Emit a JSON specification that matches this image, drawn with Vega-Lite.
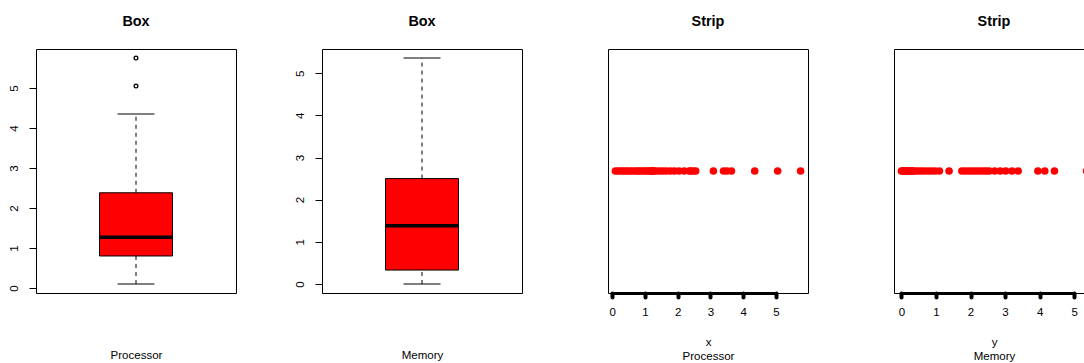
{
  "$schema": "https://vega.github.io/schema/vega-lite/v6.json",
  "background": "white",
  "padding": {"left": 7, "top": 13, "right": 0, "bottom": 0},
  "datasets": {
    "processor": [
      {"value": 0.10}, {"value": 0.18}, {"value": 0.25}, {"value": 0.33}, {"value": 0.41},
      {"value": 0.47}, {"value": 0.55}, {"value": 0.62}, {"value": 0.70}, {"value": 0.78},
      {"value": 0.82}, {"value": 0.90}, {"value": 0.97}, {"value": 1.03}, {"value": 1.10},
      {"value": 1.15}, {"value": 1.20}, {"value": 1.22}, {"value": 1.24}, {"value": 1.26},
      {"value": 1.28}, {"value": 1.38}, {"value": 1.47}, {"value": 1.56}, {"value": 1.66},
      {"value": 1.78}, {"value": 1.90}, {"value": 2.04}, {"value": 2.20}, {"value": 2.36},
      {"value": 2.40}, {"value": 2.48}, {"value": 2.55}, {"value": 3.09}, {"value": 3.40},
      {"value": 3.50}, {"value": 3.64}, {"value": 4.35}, {"value": 5.05}, {"value": 5.75}
    ],
    "memory": [
      {"value": 0.00}, {"value": 0.03}, {"value": 0.06}, {"value": 0.10}, {"value": 0.14},
      {"value": 0.18}, {"value": 0.22}, {"value": 0.26}, {"value": 0.29}, {"value": 0.32},
      {"value": 0.34}, {"value": 0.42}, {"value": 0.50}, {"value": 0.59}, {"value": 0.68},
      {"value": 0.78}, {"value": 0.88}, {"value": 0.98}, {"value": 1.10}, {"value": 1.38},
      {"value": 1.75}, {"value": 1.84}, {"value": 1.93}, {"value": 2.02}, {"value": 2.11},
      {"value": 2.20}, {"value": 2.29}, {"value": 2.38}, {"value": 2.46}, {"value": 2.54},
      {"value": 2.70}, {"value": 2.86}, {"value": 3.02}, {"value": 3.20}, {"value": 3.38},
      {"value": 3.95}, {"value": 4.15}, {"value": 4.43}, {"value": 5.36}
    ],
    "processorStats": [
      {"variable": "Processor", "lower": 0.10, "q1": 0.80, "median": 1.27, "q3": 2.38, "upper": 4.35}
    ],
    "memoryStats": [
      {"variable": "Memory", "lower": 0.00, "q1": 0.33, "median": 1.38, "q3": 2.50, "upper": 5.36}
    ]
  },
  "hconcat": [
    {
      "title": "Box",
      "width": 200,
      "height": 244,
      "layer": [
        {
          "data": {"name": "processorStats"},
          "mark": {"type": "rule", "color": "black", "strokeWidth": 1, "strokeDash": [4, 4]},
          "encoding": {
            "x": {"field": "variable", "type": "nominal", "scale": {"paddingInner": 0, "paddingOuter": 0},
                  "axis": {"title": "Processor", "labels": false, "ticks": false, "domain": false, "titlePadding": 56}},
            "y": {"field": "q3", "type": "quantitative",
                  "scale": {"domain": [-0.126, 5.976], "nice": false, "zero": false},
                  "axis": {"title": null, "values": [0, 1, 2, 3, 4, 5], "domain": false, "tickSize": 7,
                           "labelAngle": 270, "labelAlign": "center", "labelBaseline": "bottom", "labelPadding": 10}},
            "y2": {"field": "upper"}
          }
        },
        {
          "data": {"name": "processorStats"},
          "mark": {"type": "rule", "color": "black", "strokeWidth": 1, "strokeDash": [4, 4]},
          "encoding": {
            "x": {"field": "variable", "type": "nominal"},
            "y": {"field": "lower", "type": "quantitative"},
            "y2": {"field": "q1"}
          }
        },
        {
          "data": {"name": "processorStats"},
          "mark": {"type": "bar", "fill": "#ff0000", "stroke": "black", "strokeWidth": 1, "width": {"band": 0.365}},
          "encoding": {
            "x": {"field": "variable", "type": "nominal"},
            "y": {"field": "q1", "type": "quantitative"},
            "y2": {"field": "q3"}
          }
        },
        {
          "data": {"name": "processorStats"},
          "mark": {"type": "tick", "color": "black", "size": 37, "thickness": 1, "opacity": 1},
          "encoding": {
            "x": {"field": "variable", "type": "nominal"},
            "y": {"field": "lower", "type": "quantitative"}
          }
        },
        {
          "data": {"name": "processorStats"},
          "mark": {"type": "tick", "color": "black", "size": 37, "thickness": 1, "opacity": 1},
          "encoding": {
            "x": {"field": "variable", "type": "nominal"},
            "y": {"field": "upper", "type": "quantitative"}
          }
        },
        {
          "data": {"name": "processorStats"},
          "mark": {"type": "tick", "color": "black", "size": 73, "thickness": 3.5, "opacity": 1},
          "encoding": {
            "x": {"field": "variable", "type": "nominal"},
            "y": {"field": "median", "type": "quantitative"}
          }
        },
        {
          "data": {"name": "processor"},
          "transform": [{"filter": "datum.value > 4.35"}, {"calculate": "'Processor'", "as": "variable"}],
          "mark": {"type": "point", "shape": "circle", "filled": false, "color": "black", "size": 14, "strokeWidth": 1.3, "opacity": 1},
          "encoding": {
            "x": {"field": "variable", "type": "nominal"},
            "y": {"field": "value", "type": "quantitative"}
          }
        }
      ]
    },
    {
      "title": "Box",
      "width": 200,
      "height": 244,
      "layer": [
        {
          "data": {"name": "memoryStats"},
          "mark": {"type": "rule", "color": "black", "strokeWidth": 1, "strokeDash": [4, 4]},
          "encoding": {
            "x": {"field": "variable", "type": "nominal", "scale": {"paddingInner": 0, "paddingOuter": 0},
                  "axis": {"title": "Memory", "labels": false, "ticks": false, "domain": false, "titlePadding": 56}},
            "y": {"field": "q3", "type": "quantitative",
                  "scale": {"domain": [-0.2144, 5.5744], "nice": false, "zero": false},
                  "axis": {"title": null, "values": [0, 1, 2, 3, 4, 5], "domain": false, "tickSize": 7,
                           "labelAngle": 270, "labelAlign": "center", "labelBaseline": "bottom", "labelPadding": 10}},
            "y2": {"field": "upper"}
          }
        },
        {
          "data": {"name": "memoryStats"},
          "mark": {"type": "rule", "color": "black", "strokeWidth": 1, "strokeDash": [4, 4]},
          "encoding": {
            "x": {"field": "variable", "type": "nominal"},
            "y": {"field": "lower", "type": "quantitative"},
            "y2": {"field": "q1"}
          }
        },
        {
          "data": {"name": "memoryStats"},
          "mark": {"type": "bar", "fill": "#ff0000", "stroke": "black", "strokeWidth": 1, "width": {"band": 0.365}},
          "encoding": {
            "x": {"field": "variable", "type": "nominal"},
            "y": {"field": "q1", "type": "quantitative"},
            "y2": {"field": "q3"}
          }
        },
        {
          "data": {"name": "memoryStats"},
          "mark": {"type": "tick", "color": "black", "size": 37, "thickness": 1, "opacity": 1},
          "encoding": {
            "x": {"field": "variable", "type": "nominal"},
            "y": {"field": "lower", "type": "quantitative"}
          }
        },
        {
          "data": {"name": "memoryStats"},
          "mark": {"type": "tick", "color": "black", "size": 37, "thickness": 1, "opacity": 1},
          "encoding": {
            "x": {"field": "variable", "type": "nominal"},
            "y": {"field": "upper", "type": "quantitative"}
          }
        },
        {
          "data": {"name": "memoryStats"},
          "mark": {"type": "tick", "color": "black", "size": 73, "thickness": 3.5, "opacity": 1},
          "encoding": {
            "x": {"field": "variable", "type": "nominal"},
            "y": {"field": "median", "type": "quantitative"}
          }
        }
      ]
    },
    {
      "title": "Strip",
      "width": 200,
      "height": 244,
      "encoding": {
        "x": {"type": "quantitative",
              "scale": {"domain": [-0.126, 5.976], "nice": false, "zero": false},
              "axis": {"title": ["x", "Processor"], "values": [0, 1, 2, 3, 4, 5], "tickCount": 6, "domain": false,
                       "labelOverlap": false, "labelFlush": false,
                       "tickSize": 4, "tickWidth": 4, "tickCap": "round", "labelPadding": 9,
                       "titlePadding": 19, "titleLineHeight": 14}}
      },
      "layer": [
        {
          "data": {"name": "processor"},
          "mark": {"type": "point", "shape": "circle", "filled": true, "color": "#ff0000", "size": 58, "opacity": 1},
          "encoding": {
            "x": {"field": "value"},
            "y": {"datum": 0.5, "type": "quantitative", "scale": {"domain": [0, 1]}, "axis": null}
          }
        },
        {
          "data": {"name": "processor"},
          "transform": [{"aggregate": [{"op": "count", "as": "n"}]}],
          "mark": {"type": "rule", "color": "black", "strokeWidth": 3, "strokeCap": "round", "yOffset": 0.5},
          "encoding": {
            "x": {"datum": 0},
            "x2": {"datum": 5},
            "y": {"datum": 0, "type": "quantitative"}
          }
        }
      ]
    },
    {
      "title": "Strip",
      "width": 200,
      "height": 244,
      "encoding": {
        "x": {"type": "quantitative",
              "scale": {"domain": [-0.2144, 5.5744], "nice": false, "zero": false},
              "axis": {"title": ["y", "Memory"], "values": [0, 1, 2, 3, 4, 5], "tickCount": 6, "domain": false,
                       "labelOverlap": false, "labelFlush": false,
                       "tickSize": 4, "tickWidth": 4, "tickCap": "round", "labelPadding": 9,
                       "titlePadding": 19, "titleLineHeight": 14}}
      },
      "layer": [
        {
          "data": {"name": "memory"},
          "mark": {"type": "point", "shape": "circle", "filled": true, "color": "#ff0000", "size": 58, "opacity": 1},
          "encoding": {
            "x": {"field": "value"},
            "y": {"datum": 0.5, "type": "quantitative", "scale": {"domain": [0, 1]}, "axis": null}
          }
        },
        {
          "data": {"name": "memory"},
          "transform": [{"aggregate": [{"op": "count", "as": "n"}]}],
          "mark": {"type": "rule", "color": "black", "strokeWidth": 3, "strokeCap": "round", "yOffset": 0.5},
          "encoding": {
            "x": {"datum": 0},
            "x2": {"datum": 5},
            "y": {"datum": 0, "type": "quantitative"}
          }
        }
      ]
    }
  ],
  "spacing": 86,
  "bounds": "flush",
  "config": {
    "font": "Liberation Sans",
    "view": {"stroke": "black", "strokeWidth": 1},
    "title": {"font": "Liberation Sans", "fontSize": 14.4, "fontWeight": "bold", "color": "black", "offset": 20},
    "axis": {
      "grid": false,
      "labelFont": "Liberation Sans", "labelFontSize": 11.5, "labelColor": "black",
      "tickColor": "black", "tickWidth": 1,
      "titleFont": "Liberation Sans", "titleFontSize": 11.5, "titleFontWeight": "normal", "titleColor": "black"
    }
  }
}
